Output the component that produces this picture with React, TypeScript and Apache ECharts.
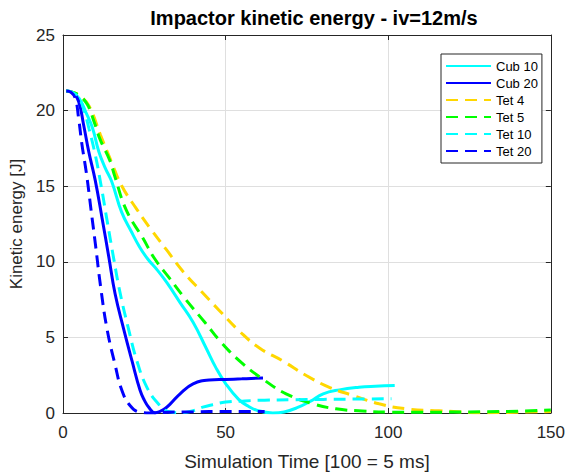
import React, { useEffect, useRef } from "react";
import * as echarts from "echarts";

const seriesNames = ["Cub 10", "Cub 20", "Tet 4", "Tet 5", "Tet 10", "Tet 20"];
const seriesColors = ["#00FFFF", "#0000FF", "#FFD700", "#00FF00", "#00FFFF", "#0000FF"];
const seriesDashed = [false, false, true, true, true, true];

const cub10T = [1, 3, 5, 7, 9, 11, 13, 15, 18, 21, 23.5, 26, 29, 32, 36, 40, 44, 47, 50, 54, 57, 60, 64.5, 68, 72, 76, 80, 85, 91, 96, 102];
const cub10E = [21.3, 21.2, 20.8, 19.9, 18.9, 17.3, 16.2, 15.3, 13.3, 12.0, 11.0, 10.2, 9.45, 8.6, 7.3, 6.0, 4.3, 3.0, 1.95, 0.9, 0.45, 0.15, 0.0, 0.07, 0.35, 0.77, 1.27, 1.53, 1.7, 1.77, 1.82];

const cub20T = [1, 3, 4.8, 6.3, 7.9, 9.9, 12, 14.1, 16, 18.6, 21.2, 23.7, 25, 26.3, 28.3, 30, 31.3, 33, 36, 40, 45, 50, 55, 61.5];
const cub20E = [21.3, 21.2, 20.6, 19.1, 17.3, 15.4, 12.9, 10.3, 7.9, 5.6, 3.46, 1.5, 0.85, 0.4, 0.02, 0.12, 0.28, 0.6, 1.27, 1.92, 2.18, 2.22, 2.26, 2.32];

const tet4T = [1, 3, 5, 8, 11.5, 14.9, 18, 22.6, 27.2, 31.8, 36.9, 42.5, 48.2, 54.3, 60.4, 67.5, 74.8, 81.9, 89, 97.2, 105.4, 115.6, 130, 140, 150];
const tet4E = [21.3, 21.2, 21.0, 20.3, 18.4, 16.6, 15.05, 13.5, 12.1, 10.8, 9.36, 8.05, 6.75, 5.4, 4.3, 3.45, 2.48, 1.7, 1.17, 0.61, 0.28, 0.15, 0.02, 0.05, 0.1];

const tet5T = [1, 3, 5, 7.5, 9.5, 11.4, 14.4, 16, 19.5, 24.6, 28.2, 32.8, 37.4, 43.6, 48.7, 54.8, 61.4, 68.6, 76.8, 83.9, 92, 100, 110, 120, 130, 140, 150];
const tet5E = [21.3, 21.2, 21.0, 20.4, 19.3, 18.1, 16.7, 15.6, 13.4, 11.55, 10.2, 8.9, 7.6, 6.0, 4.66, 3.35, 2.25, 1.27, 0.61, 0.28, 0.13, 0.06, 0.05, 0.06, 0.08, 0.12, 0.2];

const tet10T = [1, 3, 5, 6.5, 8, 10, 11.5, 13.5, 15.6, 17.6, 20.1, 22.7, 25.8, 29.3, 32.4, 36, 40, 43, 46, 50, 56, 62, 70, 80, 90, 101];
const tet10E = [21.3, 21.2, 20.8, 20.0, 18.8, 17.0, 15.3, 12.8, 10.2, 7.9, 5.6, 3.46, 1.7, 0.61, 0.1, 0.02, 0.15, 0.39, 0.55, 0.72, 0.8, 0.85, 0.87, 0.9, 0.92, 0.94];

const tet20T = [1, 2.5, 3.8, 4.8, 5.8, 7.3, 8.7, 10, 11.6, 13.5, 16, 18.1, 20.6, 23.7, 27, 32, 40, 50, 62];
const tet20E = [21.3, 21.2, 20.8, 19.5, 17.8, 15.7, 13.3, 11.1, 8.3, 5.6, 3.2, 1.5, 0.5, 0.05, 0.0, 0.05, 0.08, 0.1, 0.1];

const allT = [cub10T, cub20T, tet4T, tet5T, tet10T, tet20T];
const allE = [cub10E, cub20E, tet4E, tet5E, tet10E, tet20E];

const xTicks = [0, 50, 100, 150];
const yTicks = [0, 5, 10, 15, 20, 25];

const titleText = "Impactor kinetic energy - iv=12m/s";
const xName = "Simulation Time [100 = 5 ms]";
const yName = "Kinetic energy [J]";

const FONT = "'Liberation Sans', Arial, Helvetica, sans-serif";
const AXIS_COLOR = "#262626";

export default function App() {
  const ref = useRef<HTMLDivElement>(null);

  useEffect(() => {
    if (!ref.current) return;
    const chart = echarts.init(ref.current, undefined, { renderer: "svg" });

    const xMin = xTicks[0];
    const xMax = xTicks[xTicks.length - 1];
    const xInt = xTicks[1] - xTicks[0];
    const yMin = yTicks[0];
    const yMax = yTicks[yTicks.length - 1];
    const yInt = yTicks[1] - yTicks[0];

    const series = seriesNames.map((name, i) => ({
      name,
      type: "line",
      xAxisIndex: 0,
      yAxisIndex: 0,
      symbol: "none",
      showSymbol: false,
      smooth: 0.45,
      data: allT[i].map((t, j) => [t, allE[i][j]]),
      lineStyle: {
        color: seriesColors[i],
        width: 3,
        type: seriesDashed[i] ? [12, 7] : "solid",
      },
      itemStyle: { color: seriesColors[i] },
    }));

    chart.setOption({
      animation: false,
      backgroundColor: "#ffffff",
      textStyle: { fontFamily: FONT },
      title: {
        text: titleText,
        left: 309,
        top: 3,
        textAlign: "center",
        textStyle: { fontFamily: FONT, fontSize: 20, fontWeight: "bold", color: "#000000" },
      },
      grid: { left: 63, right: 16, top: 35, bottom: 60, containLabel: false },
      legend: {
        orient: "vertical",
        left: 441,
        top: 54,
        padding: [5, 4, 5, 4],
        itemWidth: 45,
        itemHeight: 14,
        itemGap: 3,
        itemStyle: { opacity: 0 },
        backgroundColor: "#ffffff",
        borderColor: "#262626",
        borderWidth: 1,
        borderRadius: 0,
        textStyle: { fontFamily: FONT, fontSize: 13, color: "#000000", lineHeight: 14 },
        data: seriesNames,
      },
      xAxis: [
        {
          type: "value",
          position: "bottom",
          min: xMin,
          max: xMax,
          interval: xInt,
          name: xName,
          nameLocation: "middle",
          nameGap: 39,
          nameTextStyle: { fontFamily: FONT, fontSize: 19, color: AXIS_COLOR },
          axisLine: { show: true, onZero: false, lineStyle: { color: AXIS_COLOR, width: 1 } },
          axisTick: { show: true, inside: true, length: 5, lineStyle: { color: AXIS_COLOR } },
          axisLabel: { fontFamily: FONT, fontSize: 17, color: AXIS_COLOR, margin: 11 },
          splitLine: { show: true, lineStyle: { color: "#dfdfdf", width: 1 } },
        },
        {
          type: "value",
          position: "top",
          min: xMin,
          max: xMax,
          interval: xInt,
          axisLine: { show: true, onZero: false, lineStyle: { color: AXIS_COLOR, width: 1 } },
          axisTick: { show: true, inside: true, length: 5, lineStyle: { color: AXIS_COLOR } },
          axisLabel: { show: false },
          splitLine: { show: false },
        },
      ],
      yAxis: [
        {
          type: "value",
          position: "left",
          min: yMin,
          max: yMax,
          interval: yInt,
          name: yName,
          nameLocation: "middle",
          nameGap: 33,
          nameTextStyle: { fontFamily: FONT, fontSize: 17, color: AXIS_COLOR },
          axisLine: { show: true, onZero: false, lineStyle: { color: AXIS_COLOR, width: 1 } },
          axisTick: { show: true, inside: true, length: 5, lineStyle: { color: AXIS_COLOR } },
          axisLabel: { fontFamily: FONT, fontSize: 17, color: AXIS_COLOR, margin: 8 },
          splitLine: { show: true, lineStyle: { color: "#dfdfdf", width: 1 } },
        },
        {
          type: "value",
          position: "right",
          min: yMin,
          max: yMax,
          interval: yInt,
          axisLine: { show: true, onZero: false, lineStyle: { color: AXIS_COLOR, width: 1 } },
          axisTick: { show: true, inside: true, length: 5, lineStyle: { color: AXIS_COLOR } },
          axisLabel: { show: false },
          splitLine: { show: false },
        },
      ],
      series,
    });

    return () => {
      chart.dispose();
    };
  }, []);

  return (
    <div
      ref={ref}
      style={{ position: "absolute", left: 0, top: 0, width: 568, height: 476 }}
    />
  );
}
